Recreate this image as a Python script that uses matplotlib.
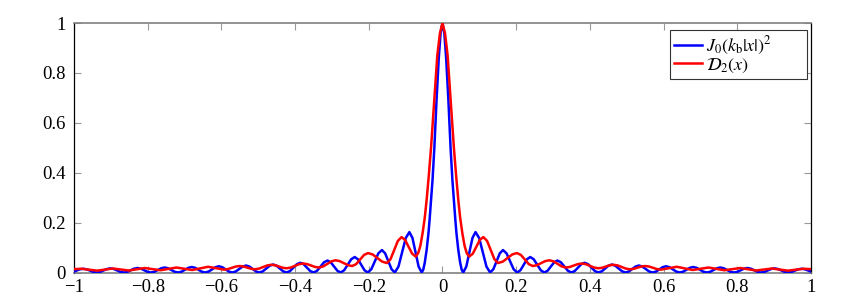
import numpy as np
import matplotlib.pyplot as plt
from matplotlib.patches import Rectangle

# values, x >= 0 only (both curves are even in x)
bessel_x = [0, 0.005, 0.010, 0.016, 0.022, 0.027, 0.031, 0.035, 0.038, 0.043, 0.048, 0.052, 0.0563,
            0.0647, 0.0730, 0.0814, 0.0897, 0.0996, 0.1095, 0.1194, 0.1293,
            0.1381, 0.1468, 0.1556, 0.1643, 0.1739, 0.1835, 0.1931, 0.2027,
            0.2116, 0.2205, 0.2293, 0.2382, 0.2477, 0.2572, 0.2667, 0.2762,
            0.2852, 0.2941, 0.3031, 0.3120, 0.3214, 0.3309, 0.3403, 0.3497,
            0.3587, 0.3677, 0.3767, 0.3857, 0.3951, 0.4045, 0.4138, 0.4232,
            0.4323, 0.4413, 0.4504, 0.4594, 0.4688, 0.4781, 0.4875, 0.4968,
            0.5059, 0.5149, 0.5240, 0.5330, 0.5423, 0.5517, 0.5610, 0.5703,
            0.5794, 0.5885, 0.5976, 0.6067, 0.6160, 0.6253, 0.6346, 0.6439,
            0.6530, 0.6621, 0.6712, 0.6803, 0.6896, 0.6989, 0.7081, 0.7174,
            0.7265, 0.7357, 0.7448, 0.7539, 0.7632, 0.7725, 0.7817, 0.7910,
            0.8001, 0.8093, 0.8184, 0.8275, 0.8368, 0.8461, 0.8553, 0.8646,
            0.8737, 0.8828, 0.8919, 0.9010, 0.9103, 0.9196, 0.9288, 0.9381,
            0.9472, 0.9564, 0.9655, 0.9746, 0.9839, 0.9932, 1.0024, 1.0117]
bessel_y = [1, 0.96, 0.86, 0.693, 0.5, 0.37, 0.29, 0.21, 0.157, 0.09, 0.04, 0.012, 0,
            0.0237, 0.081, 0.1383, 0.162, 0.1383, 0.081, 0.0237, 0,
            0.0131, 0.045, 0.0769, 0.090, 0.0769, 0.045, 0.0131, 0,
            0.0091, 0.031, 0.053, 0.062, 0.053, 0.031, 0.0091, 0,
            0.0070, 0.024, 0.041, 0.048, 0.041, 0.024, 0.0070, 0,
            0.0057, 0.0195, 0.0333, 0.039, 0.0333, 0.0195, 0.0057, 0,
            0.0047, 0.016, 0.0273, 0.032, 0.0273, 0.016, 0.0047, 0,
            0.0041, 0.014, 0.0239, 0.028, 0.0239, 0.014, 0.0041, 0,
            0.0037, 0.0125, 0.0214, 0.025, 0.0214, 0.0125, 0.0037, 0,
            0.0032, 0.011, 0.0188, 0.022, 0.0188, 0.011, 0.0032, 0,
            0.0029, 0.010, 0.0171, 0.020, 0.0171, 0.010, 0.0029, 0,
            0.0026, 0.009, 0.0154, 0.018, 0.0154, 0.009, 0.0026, 0,
            0.0024, 0.0083, 0.0141, 0.0165, 0.0141, 0.0083, 0.0024, 0,
            0.0022, 0.0075, 0.0128, 0.015, 0.0128, 0.0075, 0.0022, 0]

dirichlet_x = [0, 0.007, 0.014, 0.022, 0.031, 0.037, 0.043, 0.048, 0.054, 0.060, 0.066, 0.0727,
               0.0823, 0.0919, 0.1014, 0.111, 0.121, 0.131, 0.141, 0.151,
               0.1638, 0.1765, 0.1893, 0.202, 0.2128, 0.2235, 0.2343, 0.245,
               0.2563, 0.2675, 0.2788, 0.290, 0.3013, 0.3125, 0.3238, 0.335,
               0.3458, 0.3565, 0.3673, 0.378, 0.3893, 0.4005, 0.4118, 0.423,
               0.4333, 0.4435, 0.4538, 0.464, 0.4753, 0.4865, 0.4978, 0.509,
               0.5193, 0.5295, 0.5398, 0.550, 0.5608, 0.5715, 0.5823, 0.593,
               0.6145, 0.636, 0.6575, 0.679, 0.7005, 0.722, 0.7435, 0.765,
               0.7865, 0.808, 0.8295, 0.851, 0.8725, 0.894, 0.9155, 0.937,
               0.9585, 0.980, 1.0]
dirichlet_y = [1, 0.958, 0.87, 0.693, 0.5, 0.39, 0.29, 0.22, 0.157, 0.107, 0.077, 0.064,
               0.0754, 0.103, 0.1306, 0.142, 0.1268, 0.090, 0.0532, 0.038,
               0.0438, 0.058, 0.0722, 0.078, 0.0704, 0.052, 0.0336, 0.026,
               0.0294, 0.0375, 0.0456, 0.049, 0.0448, 0.0345, 0.0242, 0.020,
               0.0223, 0.028, 0.0337, 0.036, 0.0332, 0.0265, 0.0198, 0.017,
               0.019, 0.024, 0.029, 0.031, 0.0284, 0.022, 0.0156, 0.013,
               0.0149, 0.0195, 0.0241, 0.026, 0.0239, 0.0188, 0.0136, 0.0115,
               0.0173, 0.023, 0.0165, 0.010, 0.015, 0.020, 0.0145, 0.009,
               0.0135, 0.018, 0.013, 0.008, 0.012, 0.016, 0.01175, 0.0075,
               0.01125, 0.015, 0.0135]

xticks = [-1, -0.8, -0.6, -0.4, -0.2, 0, 0.2, 0.4, 0.6, 0.8, 1]
xticklabels = ['\u22121', '\u22120.8', '\u22120.6', '\u22120.4', '\u22120.2', '0',
               '0.2', '0.4', '0.6', '0.8', '1']
yticks = [0, 0.2, 0.4, 0.6, 0.8, 1]
yticklabels = ['0', '0.2', '0.4', '0.6', '0.8', '1']
labels = [r'$J_0(k_\mathrm{b}|x|)^2$', r'$\mathcal{D}_2(x)$']


def mirror(xs, ys):
    xs = np.asarray(xs, dtype=float)
    ys = np.asarray(ys, dtype=float)
    return np.concatenate([-xs[::-1], xs[1:]]), np.concatenate([ys[::-1], ys[1:]])


plt.rcParams['font.family'] = ['Liberation Serif', 'DejaVu Serif']
plt.rcParams['mathtext.fontset'] = 'stix'

fig = plt.figure(figsize=(8.55, 3.04), dpi=100)
ax = fig.add_axes([0.0865, 0.1036, 0.862, 0.8207])

bx, by = mirror(bessel_x, bessel_y)
dx, dy = mirror(dirichlet_x, dirichlet_y)
ax.plot(bx, by, color='#0000ff', lw=1.8, label=labels[0], zorder=3)
ax.plot(dx, dy, color='#ff0000', lw=1.8, label=labels[1], zorder=3)

ax.set_xlim(-1, 1)
ax.set_ylim(0, 1)
ax.set_xticks(xticks)
ax.set_xticklabels(xticklabels)
ax.set_yticks(yticks)
ax.set_yticklabels(yticklabels)
ax.tick_params(direction='in', length=5, width=0.8, color='#999999',
               top=True, right=True, labelsize=13.5)
ax.tick_params(axis='x', pad=5)
ax.tick_params(axis='y', pad=6)

for side in ('left', 'right'):
    ax.spines[side].set_color('black')
    ax.spines[side].set_linewidth(0.9)
for side in ('top', 'bottom'):
    ax.spines[side].set_color('#808080')
    ax.spines[side].set_linewidth(1.2)

leg = ax.legend(loc='upper left', bbox_to_anchor=(0.8087, 0.972), borderaxespad=0,
                fontsize=13, frameon=False, handlelength=1.5, handletextpad=0.25,
                labelspacing=0.0, borderpad=0.25)
leg.set_zorder(5)

# the reference frame is wider than the legend content: draw it as a patch
fig.canvas.draw()
bb = leg.get_window_extent().transformed(ax.transAxes.inverted())
ax.add_patch(Rectangle((0.8087, bb.y0), 0.186, 0.972 - bb.y0, transform=ax.transAxes,
                       facecolor='white', edgecolor='#333333', lw=0.8, zorder=4))

fig.savefig('out.png', dpi=100)
